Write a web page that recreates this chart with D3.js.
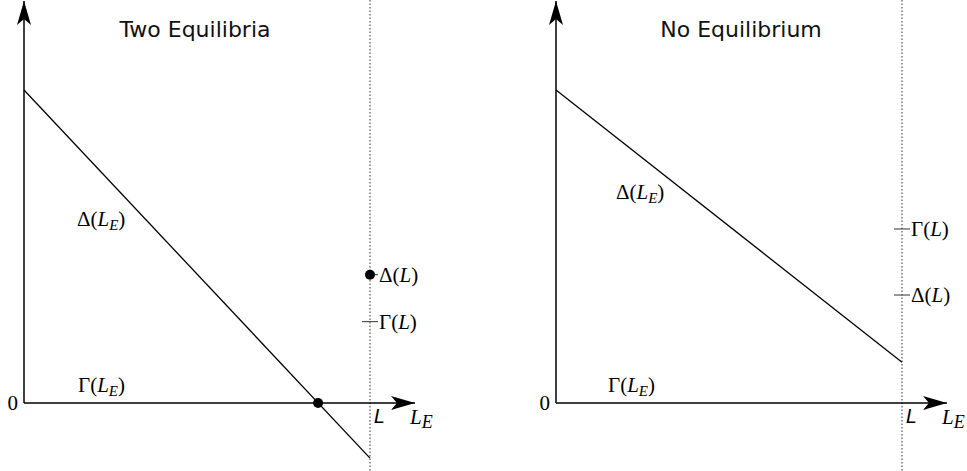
<!DOCTYPE html>
<html>
<head>
<meta charset="utf-8">
<script src="https://cdn.jsdelivr.net/npm/d3@7"></script>
<style>
  html, body { margin: 0; padding: 0; background: #fff; }
  svg { display: block; }
  .math { font-family: "Liberation Serif", "DejaVu Serif", serif; font-size: 21px; fill: #000; }
  .title { font-family: "DejaVu Sans", sans-serif; font-size: 22px; fill: #111; }
</style>
</head>
<body>
<script>
// Panel titles
const titles = ["Two Equilibria", "No Equilibrium"];
// Δ(L_E) line: value at L_E = 0 and at L_E = L (x domain is [0, 1], L = 1)
const deltaStart = [1.0, 1.0];
const deltaEnd = [-0.176, 0.13];
// Equilibrium point(s) where Δ(L_E) crosses Γ(L_E) = 0
const equilibriaX = [[0.85], []];
// Values at the boundary L
const deltaAtL = [0.41, 0.345];
const gammaAtL = [0.26, 0.556];
// Whether Δ(L) is marked by a filled dot
const deltaAtLDot = [true, false];

const W = 967, H = 471;
const svg = d3.select("body").append("svg").attr("width", W).attr("height", H);

const defs = svg.append("defs");
defs.append("marker")
  .attr("id", "arrow")
  .attr("viewBox", "0 0 24 14")
  .attr("refX", 24).attr("refY", 7)
  .attr("markerWidth", 24).attr("markerHeight", 14)
  .attr("markerUnits", "userSpaceOnUse")
  .attr("orient", "auto")
  .append("path")
  .attr("d", "M0,0 L24,7 L0,14 L6,7 Z")
  .attr("fill", "#000");

const panelLeft = [24, 556];
const titleCenter = [195, 741];
const deltaLabelPos = [[53, 226], [60, 199]];
const gammaLabelPos = [[54, 392], [52, 392]];

function drawPanel(i) {
  const x0 = panelLeft[i];
  const x = d3.scaleLinear().domain([0, 1]).range([x0, x0 + 346]);
  const y = d3.scaleLinear().domain([0, 1]).range([403, 90]);
  const g = svg.append("g");

  // dotted boundary at L
  g.append("line")
    .attr("x1", x(1)).attr("x2", x(1))
    .attr("y1", 0).attr("y2", H)
    .attr("stroke", "#555").attr("stroke-width", 1.2)
    .attr("stroke-dasharray", "1.5,2");

  // axes
  g.append("line")
    .attr("x1", x(0)).attr("x2", x(0))
    .attr("y1", y(0)).attr("y2", 1)
    .attr("stroke", "#000").attr("stroke-width", 1.5)
    .attr("marker-end", "url(#arrow)");
  g.append("line")
    .attr("x1", x(0)).attr("x2", x(1.13))
    .attr("y1", y(0)).attr("y2", y(0))
    .attr("stroke", "#000").attr("stroke-width", 1.5)
    .attr("marker-end", "url(#arrow)");

  // Δ(L_E) line
  const line = d3.line().x(d => x(d[0])).y(d => y(d[1]));
  g.append("path")
    .datum([[0, deltaStart[i]], [1, deltaEnd[i]]])
    .attr("d", line)
    .attr("fill", "none").attr("stroke", "#000").attr("stroke-width", 1.3);

  // equilibria
  g.selectAll("circle.eq").data(equilibriaX[i]).enter().append("circle")
    .attr("class", "eq")
    .attr("cx", d => x(d)).attr("cy", y(0)).attr("r", 5).attr("fill", "#000");

  // values at L
  const tick = 8;
  g.append("line")
    .attr("x1", x(1) - tick).attr("x2", x(1) + tick)
    .attr("y1", y(gammaAtL[i])).attr("y2", y(gammaAtL[i]))
    .attr("stroke", "#444").attr("stroke-width", 1.1);
  if (deltaAtLDot[i]) {
    g.append("line")
      .attr("x1", x(1)).attr("x2", x(1) + tick)
      .attr("y1", y(deltaAtL[i])).attr("y2", y(deltaAtL[i]))
      .attr("stroke", "#444").attr("stroke-width", 1.1);
    g.append("circle").attr("cx", x(1)).attr("cy", y(deltaAtL[i])).attr("r", 5).attr("fill", "#000");
  } else {
    g.append("line")
      .attr("x1", x(1) - tick).attr("x2", x(1) + tick)
      .attr("y1", y(deltaAtL[i])).attr("y2", y(deltaAtL[i]))
      .attr("stroke", "#444").attr("stroke-width", 1.1);
  }

  function mathLabel(tx, ty, head, arg, sub) {
    const t = g.append("text").attr("class", "math").attr("x", tx).attr("y", ty);
    t.append("tspan").text(head + "(");
    t.append("tspan").attr("font-style", "italic").text(arg);
    if (sub) t.append("tspan").attr("font-style", "italic").attr("font-size", 15).attr("dy", 4).text(sub);
    t.append("tspan").attr("dy", sub ? -4 : 0).text(")");
    return t;
  }

  mathLabel(x(1) + 9, y(deltaAtL[i]) + 7, "Δ", "L", null);
  mathLabel(x(1) + 9, y(gammaAtL[i]) + 7, "Γ", "L", null);
  mathLabel(x0 + deltaLabelPos[i][0], deltaLabelPos[i][1], "Δ", "L", "E");
  mathLabel(x0 + gammaLabelPos[i][0], gammaLabelPos[i][1], "Γ", "L", "E");

  // zero tick label
  g.append("text").attr("class", "math").attr("x", x0 - 6).attr("y", y(0) + 7)
    .attr("text-anchor", "end").attr("font-size", 18).text("0");

  // L and L_E axis labels
  g.append("text")
    .attr("x", x(1) + 4).attr("y", y(0) + 20)
    .attr("font-family", "DejaVu Sans, sans-serif").attr("font-style", "italic")
    .attr("font-size", 19).text("L");
  const le = g.append("text").attr("class", "math")
    .attr("x", x(1) + 40).attr("y", y(0) + 21).attr("font-size", 24).attr("font-style", "italic");
  le.append("tspan").text("L");
  le.append("tspan").attr("font-size", 18).attr("dy", 4).text("E");

  // title
  g.append("text").attr("class", "title")
    .attr("x", titleCenter[i]).attr("y", 37).attr("text-anchor", "middle").text(titles[i]);
}

drawPanel(0);
drawPanel(1);
</script>
</body>
</html>
